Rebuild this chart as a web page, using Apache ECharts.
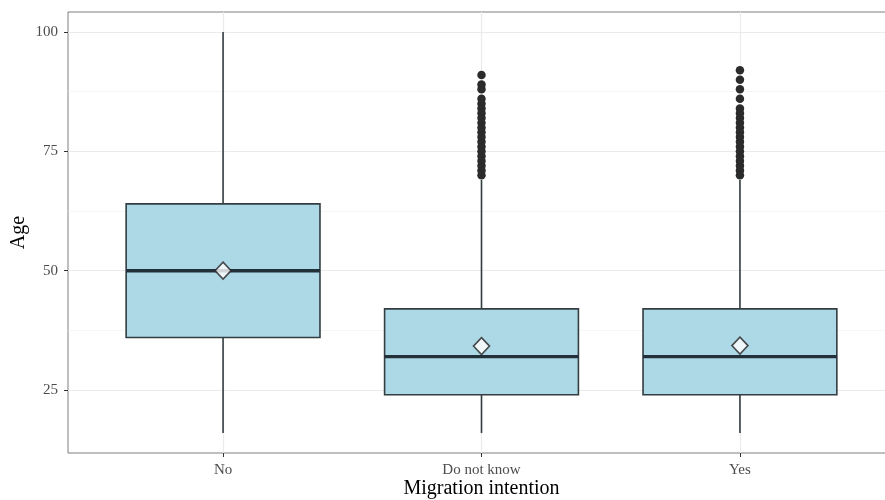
<!DOCTYPE html>
<html>
<head>
<meta charset="utf-8">
<script src="https://cdn.jsdelivr.net/npm/echarts@6/dist/echarts.min.js"></script>
<style>html,body{margin:0;padding:0;background:#fff;}#c{width:885px;height:500px;}</style>
</head>
<body>
<div id="c"></div>
<script>
var categories = ['No', 'Do not know', 'Yes'];
var whiskerLow = [16, 16, 16];
var q1 = [36, 24, 24];
var medians = [50, 32, 32];
var q3 = [64, 42, 42];
var whiskerHigh = [100, 69, 69];
var means = [50, 34.2, 34.3];
var outliersDoNotKnow = [91, 89, 88, 86, 85, 84, 83, 82, 81, 80, 79, 78, 77, 76, 75, 74, 73, 72, 71, 70];
var outliersYes = [92, 90, 88, 86, 84, 83, 82, 81, 80, 79, 78, 77, 76, 75, 74, 73, 72, 71, 70];
var yTicks = [25, 50, 75, 100];
var yMinor = [37.5, 62.5, 87.5];

var boxData = categories.map(function (c, i) {
  return [i + 1, whiskerLow[i], q1[i], medians[i], q3[i], whiskerHigh[i]];
});
var outlierData = [];
outliersDoNotKnow.forEach(function (v) { outlierData.push([2, v]); });
outliersYes.forEach(function (v) { outlierData.push([3, v]); });
var meanData = means.map(function (m, i) { return [i + 1, m]; });

var serif = 'Liberation Serif';
var chart = echarts.init(document.getElementById('c'));

var gridLines = [];
yTicks.forEach(function (v) { gridLines.push({ yAxis: v, lineStyle: { color: '#ebebeb', width: 1.2, type: 'solid' } }); });
yMinor.forEach(function (v) { gridLines.push({ yAxis: v, lineStyle: { color: '#f2f2f2', width: 0.7, type: 'solid' } }); });
categories.forEach(function (c, i) { gridLines.push({ xAxis: i + 1, lineStyle: { color: '#ebebeb', width: 1.2, type: 'solid' } }); });

chart.setOption({
  animation: false,
  backgroundColor: '#ffffff',
  grid: { left: 68, top: 12, width: 827, height: 441, show: true, borderColor: '#7f7f7f', borderWidth: 1, containLabel: false, outerBoundsMode: 'none' },
  xAxis: {
    type: 'value', min: 0.4, max: 3.6,
    name: 'Migration intention', nameLocation: 'middle', nameGap: 36, nameMoveOverlap: false,
    nameTextStyle: { fontFamily: serif, fontSize: 20, color: '#000', verticalAlign: 'middle', padding: 0 },
    axisLine: { show: false },
    axisTick: { show: true, length: 4, lineStyle: { color: '#333' }, customValues: [1, 2, 3] },
    axisLabel: { fontFamily: serif, fontSize: 15, color: '#4d4d4d', margin: 10, customValues: [1, 2, 3],
      formatter: function (v) { return categories[Math.round(v) - 1] || ''; } },
    splitLine: { show: false }
  },
  yAxis: {
    type: 'value', min: 11.8, max: 104.2,
    name: 'Age', nameLocation: 'middle', nameGap: 49, nameMoveOverlap: false,
    nameTextStyle: { fontFamily: serif, fontSize: 20, color: '#000', verticalAlign: 'middle', padding: 0 },
    axisLine: { show: false },
    axisTick: { show: true, length: 4, lineStyle: { color: '#333' }, customValues: yTicks },
    axisLabel: { fontFamily: serif, fontSize: 15, color: '#4d4d4d', margin: 10, customValues: yTicks },
    splitLine: { show: false }
  },
  series: [
    {
      type: 'line', data: [], z: 0, silent: true,
      markLine: { z: 0, silent: true, symbol: ['none', 'none'], label: { show: false }, animation: false, data: gridLines }
    },
    {
      type: 'custom', z: 2, data: boxData,
      encode: { x: 0, y: [1, 2, 3, 4, 5] },
      renderItem: function (params, api) {
        var x = api.value(0);
        var unit = api.size([1, 0])[0];
        var hw = unit * 0.375;
        var pLow = api.coord([x, api.value(1)]);
        var pQ1 = api.coord([x, api.value(2)]);
        var pMed = api.coord([x, api.value(3)]);
        var pQ3 = api.coord([x, api.value(4)]);
        var pHigh = api.coord([x, api.value(5)]);
        var stroke = '#333d42';
        return {
          type: 'group',
          children: [
            { type: 'line', shape: { x1: pLow[0], y1: pLow[1], x2: pQ1[0], y2: pQ1[1] }, style: { stroke: stroke, lineWidth: 1.6 } },
            { type: 'line', shape: { x1: pQ3[0], y1: pQ3[1], x2: pHigh[0], y2: pHigh[1] }, style: { stroke: stroke, lineWidth: 1.6 } },
            { type: 'rect', shape: { x: pQ1[0] - hw, y: pQ3[1], width: hw * 2, height: pQ1[1] - pQ3[1] }, style: { fill: '#add8e6', stroke: stroke, lineWidth: 1.6 } },
            { type: 'line', shape: { x1: pMed[0] - hw, y1: pMed[1], x2: pMed[0] + hw, y2: pMed[1] }, style: { stroke: '#22303a', lineWidth: 3.4 } }
          ]
        };
      }
    },
    {
      type: 'scatter', z: 3, data: outlierData, symbol: 'circle', symbolSize: 8.5,
      itemStyle: { color: '#2b2b2b', opacity: 1 }
    },
    {
      type: 'scatter', z: 4, data: meanData, symbol: 'diamond', symbolSize: [16, 17],
      itemStyle: { color: '#ffffff', borderColor: '#222', borderWidth: 1.6 }
    }
  ]
});
</script>
</body>
</html>
